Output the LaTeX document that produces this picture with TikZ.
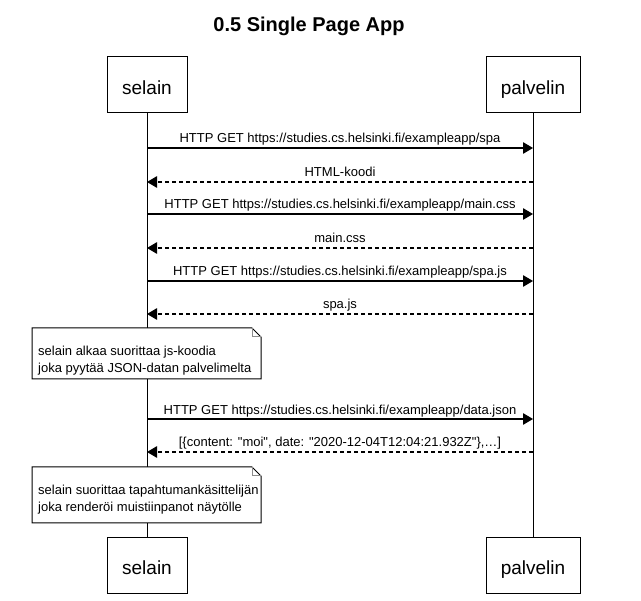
\documentclass[tikz,border=0pt]{standalone}
\usepackage{fontspec}
\setmainfont{Liberation Sans}[Ligatures={TeXOff,NoCommon}]
\usetikzlibrary{arrows.meta}
\begin{document}
\begin{tikzpicture}[x=1pt,y=-1pt,
  actor/.style={draw, line width=1pt, fill=white, minimum height=56pt,
    text height=19pt, text depth=0pt, inner sep=0pt,
    font=\fontsize{19}{22}\selectfont},
  lifeline/.style={line width=1pt},
  msglabel/.style={anchor=base, inner sep=0pt, font=\fontsize{13}{16}\selectfont},
  req/.style={line width=1.1pt, -{Triangle[length=10pt,width=11.5pt]}},
  resp/.style={req, dash pattern=on 4pt off 3pt},
  notebox/.style={draw, line width=1pt, fill=white},
  notefold/.style={draw=black!45, line width=1pt},
  notetext/.style={anchor=north west, align=left, inner sep=0pt,
    font=\fontsize{13}{17}\selectfont}
]
% canvas
\fill[white] (0,0) rectangle (641,601);
\useasboundingbox (0,0) rectangle (641,601);

% title
\node[anchor=base, inner sep=0pt, font=\fontsize{20}{22}\selectfont\bfseries] (title) at (309,32) {0.5 Single Page App};

% participants
\node[actor, minimum width=80pt] (sTop) at (147,85) {selain};
\node[actor, minimum width=94pt] (pTop) at (533,85) {palvelin};
\node[actor, minimum width=80pt] (sBot) at (147,565.5) {selain};
\node[actor, minimum width=94pt] (pBot) at (533,565.5) {palvelin};

% lifelines
\draw[lifeline] (sTop.south) -- (sBot.north);
\draw[lifeline] (pTop.south) -- (pBot.north);

% loading the page
\node[msglabel] (l1) at (340,143) {HTTP GET https://studies.cs.helsinki.fi/exampleapp/spa};
\draw[req] (sTop |- 0,148) -- (pTop |- 0,148);
\node[msglabel] (l2) at (340,177) {HTML-koodi};
\draw[resp] (pTop |- 0,182) -- (sTop |- 0,182);
\node[msglabel] (l3) at (340,209) {HTTP GET https://studies.cs.helsinki.fi/exampleapp/main.css};
\draw[req] (sTop |- 0,214) -- (pTop |- 0,214);
\node[msglabel] (l4) at (340,243) {main.css};
\draw[resp] (pTop |- 0,248) -- (sTop |- 0,248);
\node[msglabel] (l5) at (340,276) {HTTP GET https://studies.cs.helsinki.fi/exampleapp/spa.js};
\draw[req] (sTop |- 0,281) -- (pTop |- 0,281);
\node[msglabel] (l6) at (340,309) {spa.js};
\draw[resp] (pTop |- 0,314) -- (sTop |- 0,314);

% first note
\draw[notebox] (32,328) -- (252,328) -- (261,337) -- (261,379) -- (32,379) -- cycle;
\draw[notefold] (252,328) -- (252,337) -- (261,337);
\node[notetext] (n1) at (38,345.5) {selain alkaa suorittaa js-koodia\\joka pyytää JSON-datan palvelimelta};

% fetching the data
\node[msglabel] (l7) at (340,415) {HTTP GET https://studies.cs.helsinki.fi/exampleapp/data.json};
\draw[req] (sTop |- 0,419) -- (pTop |- 0,419);
\node[msglabel] (l8) at (340,447) {[\{content: "moi", date: "2020-12-04T12:04:21.932Z"\},…]};
\draw[resp] (pTop |- 0,452) -- (sTop |- 0,452);

% second note
\draw[notebox] (32,467) -- (252,467) -- (261,476) -- (261,523) -- (32,523) -- cycle;
\draw[notefold] (252,467) -- (252,476) -- (261,476);
\node[notetext] (n2) at (38,484.5) {selain suorittaa tapahtumankäsittelijän\\joka renderöi muistiinpanot näytölle};
\end{tikzpicture}
\end{document}
